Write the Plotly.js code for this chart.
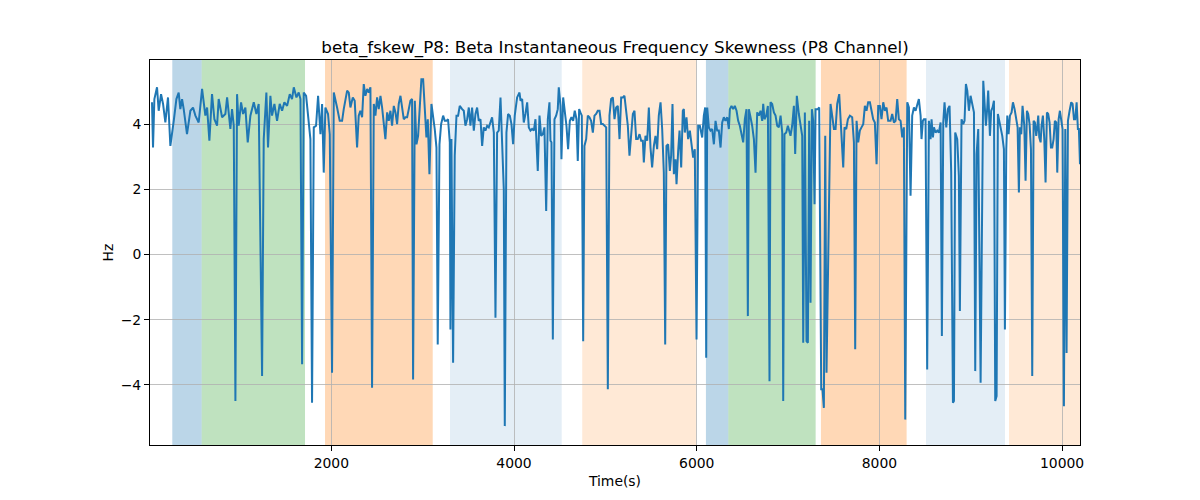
<!DOCTYPE html>
<html>
<head>
<meta charset="utf-8">
<script src="https://cdn.plot.ly/plotly-3.0.1.min.js"></script>
<style>
  html, body { margin: 0; padding: 0; background: #fff; }
  #chart { width: 1200px; height: 500px; }
</style>
</head>
<body>
<div id="chart"></div>
<script>
// sample times (s) and beta frequency skewness (Hz)
const times = [37,48,63,92,110,136,158,183,212,238,275,304,329,347,366,384,420,457,486,512,548,585,621,640,665,694,720,749,767,804,840,859,895,913,932,950,968,986,1012,1034,1059,1085,1114,1151,1180,1205,1242,1260,1289,1307,1333,1351,1377,1406,1435,1461,1486,1516,1545,1570,1589,1618,1643,1662,1680,1698,1724,1753,1771,1789,1808,1833,1855,1881,1899,1917,1935,1964,1983,2008,2027,2063,2092,
  2118,2136,2173,2191,2209,2235,2256,2282,2300,2318,2337,2355,2373,2392,2410,2428,2446,2465,2483,2501,2519,2538,2556,2574,2592,2611,2629,2647,2665,2684,2702,2720,2738,2757,2775,2793,2811,2830,2848,2866,2884,2895,2914,2932,2950,2968,2986,3005,3023,3041,3056,3074,3096,3114,3132,3151,3165,3184,3202,3224,3242,3260,3278,3297,3304,3315,3333,3351,3370,3388,3406,3432,3450,3468,3487,3505,3523,3541,3560,3578,3596,3614,3633,3651,3669,3687,3706,3724,3742,3760,3779,3797,3815,3833,3852,3870,3888,3899,3917,3935,3954,3972,3990,4008,4034,4060,
  4071,4089,4107,4125,4144,4162,4180,4198,4217,4235,4260,4279,4297,4315,4333,4352,4370,4388,4399,4410,4425,4443,4461,4479,4490,4509,4519,4538,4556,4574,4592,4611,4629,4647,4665,4684,4698,4713,4727,4742,4757,4771,4790,4808,4826,4844,4863,4881,4899,4917,4936,4954,4972,4990,5009,5027,5045,5063,5082,5100,5118,5136,5155,5173,5191,5209,5228,5246,5264,5282,5301,5319,5337,5355,5374,5392,5410,5421,5439,5458,5476,5494,5512,5531,5549,5567,5585,5604,5622,5640,5655,5669,5687,5706,5720,5735,5750,5768,5779,5797,5812,5830,5848,5859,5870,5888,5906,5925,5943,5961,5979,5998,6016,6034,
  6060,6078,6093,6104,6115,6133,6151,6169,6188,6206,6224,6242,6261,6279,6297,6315,6334,6352,6363,6381,6399,6417,6436,6454,6472,6490,6509,6527,6545,6560,6571,6589,6607,6626,6644,6662,6680,6699,6717,6728,6742,6761,6779,6797,6808,6826,6845,6863,6881,6899,6918,6936,6947,6961,6980,6998,7016,7027,7045,7064,7078,7096,7118,7137,7155,7166,7184,7202,7217,7231,7246,7261,7275,7290,7301,7326,7341,7363,7377,7392,7407,7421,7465,7483,7502,7520,7538,7560,7575,7585,7604,7618,7637,7655,7677,7702,7721,7735,7750,7768,7786,7804,7823,7841,7859,7877,7896,7914,7932,7950,7969,7987,8005,8023,8042,8060,8078,8096,8115,
  8122,8140,8159,8177,8195,8213,8232,8250,8268,8283,8305,8323,8341,8359,8378,8396,8414,8432,8451,8461,8476,8487,8505,8523,8542,8560,8571,8586,8597,8615,8633,8651,8670,8684,8699,8713,8732,8750,8768,8786,8805,8816,8830,8852,8870,8881,8899,8918,8932,8947,8962,8980,8998,9016,9035,9049,9064,9082,
  9108,9137,9151,9166,9181,9191,9210,9224,9239,9254,9268,9283,9297,9312,9327,9345,9363,9374,9389,9400,9414,9429,9447,9462,9480,9498,9513,9527,9538,9553,9567,9586,9600,9615,9629,9644,9659,9673,9688,9702,9717,9728,9739,9750,9765,9775,9790,9805,9819,9834,9848,9863,9878,9892,9907,9921,9936,9947,9962,9976,9991,10005,10020,10035,10049,10064,10082,10100,10115,10130,10144,10159,10173,10184,10196];

const hz = [4.68,3.29,4.78,5.14,4.42,4.93,4.63,4.06,4.83,3.34,4.11,4.78,4.98,4.47,4.78,4.47,3.70,4.42,4.52,4.27,4.06,5.09,4.27,4.52,3.50,4.93,4.16,3.96,4.78,4.22,4.32,4.83,3.86,4.47,3.96,-4.50,4.93,3.96,4.68,4.32,4.52,3.45,4.27,4.68,4.32,4.63,-3.73,3.55,4.98,3.29,4.88,4.27,4.63,4.11,4.63,4.42,4.68,4.57,4.93,4.78,5.14,4.83,4.98,4.78,-3.37,4.98,4.88,4.16,3.55,-4.55,3.91,3.96,4.88,3.70,4.63,2.52,4.52,4.32,3.70,-3.63,4.98,4.52,4.11,
  4.11,4.47,5.04,4.98,4.52,4.83,4.73,3.29,4.27,4.42,4.22,5.24,4.88,5.09,4.98,5.14,-4.09,4.63,4.27,4.83,4.47,4.88,4.52,3.96,3.55,4.37,4.11,4.42,3.96,4.57,4.37,4.01,4.63,4.88,4.57,4.16,4.22,4.22,4.47,4.73,4.78,-3.84,4.73,3.39,3.65,4.57,5.39,5.39,4.63,3.60,4.16,2.47,4.63,4.27,3.86,3.29,-2.76,3.39,4.01,4.27,4.11,4.11,4.16,3.45,-2.30,3.55,-3.32,3.04,4.27,4.27,4.57,4.47,4.42,3.96,4.16,4.52,3.96,4.52,3.81,4.32,4.52,4.11,4.16,3.34,3.91,3.81,3.96,3.91,4.11,4.22,3.75,-1.94,3.75,3.81,4.83,3.24,2.01,-5.27,3.75,4.32,4.27,4.01,3.39,4.27,4.83,4.98,
  4.73,4.78,4.06,4.32,4.68,3.91,3.81,3.86,3.81,4.16,2.57,4.27,3.65,3.70,3.91,1.34,4.16,4.68,3.50,3.45,-2.61,4.16,4.27,4.47,5.14,4.57,2.93,4.83,4.37,3.96,3.24,4.11,4.22,4.11,4.42,4.16,2.88,4.47,4.37,4.27,-2.66,3.34,3.55,4.27,4.22,4.11,3.75,4.27,4.32,4.42,4.42,4.01,4.01,3.96,3.91,-4.14,4.27,4.78,4.83,4.16,4.52,4.57,3.55,4.83,4.83,4.88,4.42,3.96,3.04,3.55,4.32,4.42,3.55,3.55,3.70,3.50,3.50,2.83,3.65,3.50,4.52,3.29,2.68,3.34,3.65,3.24,4.27,4.68,3.86,2.52,-2.76,3.34,3.39,2.57,3.04,4.63,2.47,2.93,2.16,3.19,3.81,2.68,4.42,4.47,3.75,4.22,3.55,3.81,3.29,2.98,3.24,-2.61,3.96,3.96,
  3.60,4.27,4.52,-3.17,4.52,3.91,3.81,3.86,3.39,4.11,3.81,3.81,3.29,4.06,4.22,4.11,4.22,3.86,4.47,4.57,4.47,4.57,4.42,4.11,3.96,3.75,3.45,4.16,4.47,-1.89,4.47,4.22,3.96,3.55,2.52,4.37,4.27,4.42,4.11,4.63,4.16,4.27,4.57,-3.89,4.68,4.63,4.37,4.27,3.96,3.91,4.27,3.75,-4.50,3.70,3.75,3.96,3.81,3.65,3.96,4.57,3.09,4.88,4.32,4.01,3.65,-2.71,4.37,-2.66,-2.71,4.11,-1.48,4.47,4.11,1.55,4.47,4.47,4.52,-4.14,-4.14,-4.71,3.65,-3.63,4.63,4.27,3.86,3.86,4.63,4.93,4.27,3.70,2.68,3.91,3.86,4.16,4.27,4.22,3.45,-2.91,4.11,3.45,3.81,3.91,4.01,4.57,4.42,4.68,4.68,4.42,4.16,4.06,2.78,4.57,4.57,4.16,4.68,4.42,4.52,4.11,4.11,
  4.11,4.32,4.06,4.11,4.78,4.16,4.11,3.60,3.91,-5.07,4.68,4.52,1.81,4.27,4.52,4.42,4.63,4.78,4.27,3.55,4.11,4.16,4.16,-3.53,4.11,3.55,4.16,3.60,3.91,3.75,3.81,3.75,4.06,-2.50,4.06,4.68,3.91,4.47,4.57,2.52,-4.55,-4.50,3.75,3.55,2.42,-1.73,4.16,4.01,4.11,5.24,5.04,4.42,4.88,4.57,4.37,-3.58,3.09,3.86,
  -3.94,5.34,4.78,3.96,4.52,5.04,3.65,4.42,4.52,4.73,-4.50,-4.35,4.32,4.11,4.01,3.65,3.24,-2.30,3.24,4.27,3.70,4.27,4.37,4.68,4.47,4.11,3.91,1.91,3.91,3.70,4.57,3.96,2.27,4.42,4.32,4.01,3.24,-3.73,4.11,4.06,3.65,3.91,4.27,3.60,3.45,3.96,4.27,3.55,2.22,4.37,4.32,4.06,3.29,3.29,3.55,4.11,4.06,2.52,4.16,4.42,4.11,3.86,-4.66,3.86,-3.02,4.11,4.42,4.68,4.63,4.16,4.16,4.68,3.86,3.86,2.78];

// shaded segments: start, end, state
const segStart = [259, 581, 1931, 3299, 4747, 6101, 6346, 7360, 8510, 9419];
const segEnd   = [581, 1712, 3110, 4522, 5992, 6346, 7302, 8298, 9375, 10196];
const segState = ['A', 'B', 'C', 'D', 'E', 'A', 'B', 'C', 'D', 'E'];

const xTicks = [2000, 4000, 6000, 8000, 10000];
const yTicks = [-4, -2, 0, 2, 4];

const stateFill = {
  A: 'rgba(31,119,180,0.3)',
  B: 'rgba(44,160,44,0.3)',
  C: 'rgba(255,127,14,0.3)',
  D: 'rgba(31,119,180,0.12)',
  E: 'rgba(255,127,14,0.17)'
};

var shapes = segStart.map((s, i) => ({
  type: 'rect', xref: 'x', yref: 'paper',
  x0: s, x1: segEnd[i], y0: 0, y1: 1,
  fillcolor: stateFill[segState[i]],
  line: {width: 0}, layer: 'below'
}));

var trace = {
  x: times, y: hz,
  mode: 'lines', type: 'scatter',
  line: {color: '#1f77b4', width: 2},
  hoverinfo: 'skip'
};

var font = 'DejaVu Sans, sans-serif';

var layout = {
  width: 1200, height: 500,
  margin: {l: 150, r: 120, t: 60, b: 55},
  paper_bgcolor: '#fff', plot_bgcolor: 'rgba(0,0,0,0)',
  font: {family: font, color: '#000', size: 13.9},
  showlegend: false,
  title: {
    text: 'beta_fskew_P8: Beta Instantaneous Frequency Skewness (P8 Channel)',
    font: {family: font, size: 16.7, color: '#000'},
    x: 0.5, xref: 'paper', xanchor: 'center',
    y: 1, yref: 'paper', yanchor: 'bottom',
    pad: {b: 7}
  },
  xaxis: {
    range: [15, 10196],
    tickvals: xTicks, ticktext: xTicks.map(String),
    ticks: 'outside', ticklen: 5, tickwidth: 1, tickcolor: '#000',
    showline: true, mirror: true, linecolor: '#000', linewidth: 1,
    showgrid: true, gridcolor: '#b0b0b0', gridwidth: 0.8,
    zeroline: false,
    title: {text: 'Time(s)', font: {family: font, size: 13.9}, standoff: 6}
  },
  yaxis: {
    range: [-5.85, 5.98],
    tickvals: yTicks,
    ticks: 'outside', ticklen: 5, tickwidth: 1, tickcolor: '#000',
    showline: true, mirror: true, linecolor: '#000', linewidth: 1,
    showgrid: true, gridcolor: '#b0b0b0', gridwidth: 0.8,
    zeroline: false,
    title: {text: 'Hz', font: {family: font, size: 13.9}, standoff: 3}
  },
  shapes: shapes
};

Plotly.newPlot('chart', [trace], layout, {staticPlot: true, displayModeBar: false});
</script>
</body>
</html>
